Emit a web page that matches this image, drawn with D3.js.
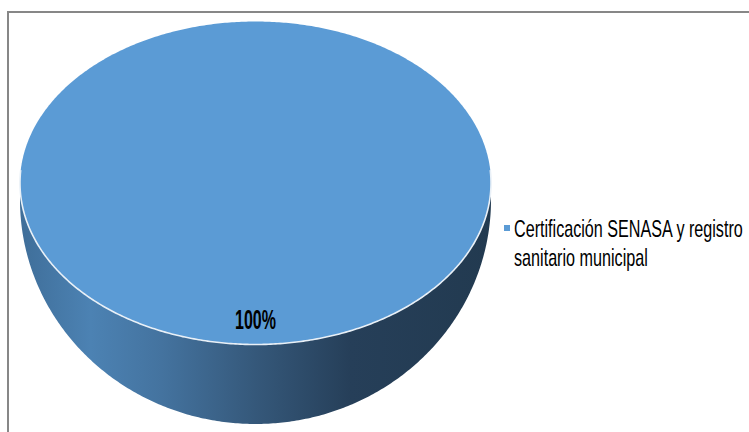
<!DOCTYPE html>
<html>
<head>
<meta charset="utf-8">
<script src="https://cdn.jsdelivr.net/npm/d3@7"></script>
<style>
  html, body { margin: 0; padding: 0; background: #ffffff; }
  svg { display: block; }
</style>
</head>
<body>
<svg id="chart" width="749" height="432"></svg>
<script>
// Data
const categories = ["Certificación SENASA y registro sanitario municipal"];
const values = [100];
const legendLines = [["Certificación SENASA y registro", "sanitario municipal"]];
const sliceColors = ["#5b9bd5"];

const W = 749, H = 432;
const svg = d3.select("#chart");

// Chart frame (runs past the right and bottom edges)
svg.append("rect")
  .attr("x", 8).attr("y", 12)
  .attr("width", W + 20).attr("height", H + 20)
  .attr("fill", "#ffffff")
  .attr("stroke", "#878787")
  .attr("stroke-width", 2);

// Ellipse geometry of the 3D pie
const cx = 255.5, cy = 183, rx = 235.5, ry = 161.5;
const cyBottom = cy + 17, ryBottom = 224;

// Pie layout: angle 0 at top, clockwise
const pie = d3.pie().sort(null).value(d => d);
const arcs = pie(values);
const total = d3.sum(values);
const pct = d3.format(".0%");

// Radial scale: fraction of the radius -> ellipse point
const radial = d3.scaleLinear().domain([0, 1]).range([0, 1]);
function topPt(a, f = 1) {
  const r = radial(f);
  return [cx + rx * r * Math.sin(a), cy - ry * r * Math.cos(a)];
}
function botPt(a) {
  return [cx + rx * Math.sin(a), cyBottom - ryBottom * Math.cos(a)];
}
function sample(a0, a1, fn) {
  const n = Math.max(2, Math.ceil(Math.abs(a1 - a0) / 0.01));
  return d3.range(n + 1).map(i => fn(a0 + (a1 - a0) * i / n));
}

// Draw text condensed horizontally to a given width
function condensedText(parent, x, y, str, width, attrs, anchor) {
  const g = parent.append("g");
  const t = g.append("text").attr("x", 0).attr("y", 0).text(str);
  Object.entries(attrs).forEach(([k, v]) => t.attr(k, v));
  const natural = t.node().getComputedTextLength() || width;
  const sx = width / natural;
  const ox = anchor === "middle" ? x - width / 2 : x;
  g.attr("transform", `translate(${ox},${y}) scale(${sx},1)`);
  return g;
}

const defs = svg.append("defs");
const grad = defs.append("linearGradient")
  .attr("id", "sideGrad")
  .attr("gradientUnits", "userSpaceOnUse")
  .attr("x1", cx - rx).attr("x2", cx + rx)
  .attr("y1", 0).attr("y2", 0);
[[0, "#3f6e99"], [0.15, "#4c82b3"], [0.3, "#44739f"], [0.5, "#35587a"],
 [0.7, "#263f59"], [1, "#223a50"]].forEach(([o, c]) =>
  grad.append("stop").attr("offset", o).attr("stop-color", c));

const line = d3.line();

// Side walls (front half only)
arcs.forEach(d => {
  const a0 = Math.max(d.startAngle, Math.PI / 2);
  const a1 = Math.min(d.endAngle, 3 * Math.PI / 2);
  if (a1 <= a0) return;
  const pts = sample(a0, a1, topPt).concat(sample(a1, a0, botPt));
  svg.append("path")
    .attr("d", line(pts) + "Z")
    .attr("fill", "url(#sideGrad)");
});

// Top faces
arcs.forEach((d, i) => {
  const full = d.endAngle - d.startAngle >= 2 * Math.PI - 1e-9;
  const pts = sample(d.startAngle, d.endAngle, a => topPt(a));
  const p = full ? line(pts) + "Z" : "M" + cx + "," + cy + "L" + line(pts).slice(1) + "Z";
  svg.append("path")
    .attr("d", p)
    .attr("fill", sliceColors[i]);
});

// Light rim along the front edge of the top face
svg.append("path")
  .attr("d", line(sample(Math.PI / 2 - 0.08, 3 * Math.PI / 2 + 0.08, a => topPt(a))))
  .attr("fill", "none")
  .attr("stroke", "#e9f0f7")
  .attr("stroke-width", 1.6);

// Percentage labels
arcs.forEach(d => {
  const mid = (d.startAngle + d.endAngle) / 2;
  const [lx, ly] = topPt(mid, 0.84);
  condensedText(svg, lx, ly + 10, pct(d.value / total), 41, {
    "font-family": "'Liberation Sans', Arial, sans-serif",
    "font-weight": "bold",
    "font-size": 28,
    "fill": "#000000"
  }, "middle");
});

// Legend
const legend = svg.append("g").attr("transform", "translate(504,225)");
categories.forEach((c, i) => {
  legend.append("rect")
    .attr("x", 0).attr("y", 0)
    .attr("width", 6).attr("height", 6)
    .attr("fill", sliceColors[i]);
  const lens = [229, 134];
  legendLines[i].forEach((t, j) => {
    condensedText(legend, 10, 12 + j * 29, t, lens[j], {
      "font-family": "'Liberation Sans', Arial, sans-serif",
      "font-size": 24,
      "fill": "#000000"
    }, "start");
  });
});
</script>
</body>
</html>
